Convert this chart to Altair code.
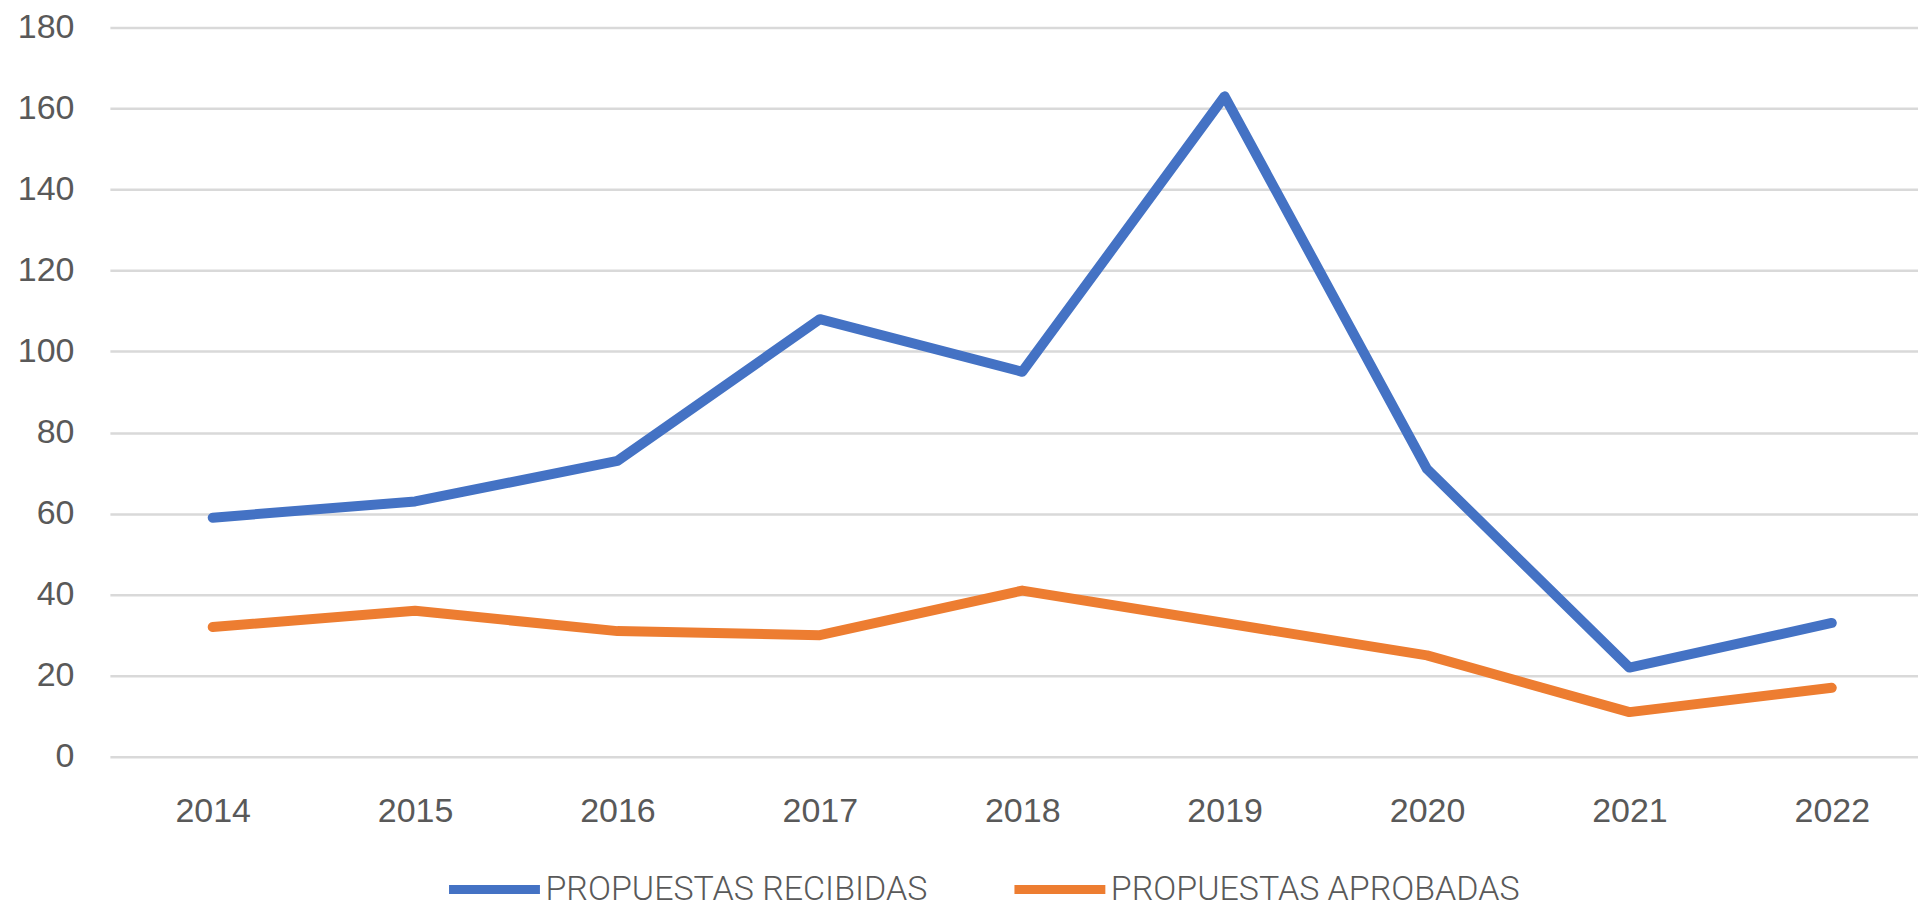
import altair as alt
import pandas as pd

years = [2014, 2015, 2016, 2017, 2018, 2019, 2020, 2021, 2022]
recibidas = [59, 63, 73, 108, 95, 163, 71, 22, 33]
aprobadas = [32, 36, 31, 30, 41, 33, 25, 11, 17]
series = ["PROPUESTAS RECIBIDAS", "PROPUESTAS APROBADAS"]
colors = ["#4472C4", "#ED7D31"]
y_ticks = [0, 20, 40, 60, 80, 100, 120, 140, 160, 180]

rows = []
for i, yr in enumerate(years):
    rows.append({"year": yr, "value": recibidas[i], "serie": series[0]})
    rows.append({"year": yr, "value": aprobadas[i], "serie": series[1]})
df = pd.DataFrame(rows)

chart = (
    alt.Chart(df)
    .mark_line(strokeWidth=10, strokeCap="round", strokeJoin="round")
    .encode(
        x=alt.X(
            "year:Q",
            scale=alt.Scale(domain=[2013.492, 2022.426], nice=False, zero=False),
            axis=alt.Axis(
                values=years,
                format="d",
                title=None,
                grid=False,
                domain=False,
                ticks=False,
                labelFontSize=34,
                labelFont="Liberation Sans",
                labelColor="#595959",
                labelPadding=38,
                labelOverlap=False,
                labelFlush=False,
            ),
        ),
        y=alt.Y(
            "value:Q",
            scale=alt.Scale(domain=[0, 180], nice=False),
            axis=alt.Axis(
                values=y_ticks,
                title=None,
                grid=True,
                gridColor="#d9d9d9",
                gridWidth=2.5,
                domain=False,
                ticks=False,
                labelFontSize=34,
                labelFont="Liberation Sans",
                labelColor="#595959",
                labelPadding=36,
            ),
        ),
        color=alt.Color(
            "serie:N",
            scale=alt.Scale(domain=series, range=colors),
            sort=series,
            legend=alt.Legend(
                title=None,
                orient="none",
                direction="horizontal",
                legendX=335,
                legendY=813,
                symbolType="stroke",
                symbolSize=8281,
                symbolStrokeWidth=9,
                labelFont="Roboto",
                labelFontWeight=300,
                labelFontSize=34,
                labelColor="#595959",
                labelOffset=1,
                columnPadding=68,
                padding=0,
                labelLimit=1000,
            ),
        ),
    )
    .properties(
        width=1810,
        height=730,
        padding={"left": 102, "top": 19, "right": 0, "bottom": 154},
        autosize=alt.AutoSizeParams(type="none"),
    )
    .configure_view(stroke=None)
)

chart.save("out.html", embed_options={"renderer": "svg", "actions": False})
